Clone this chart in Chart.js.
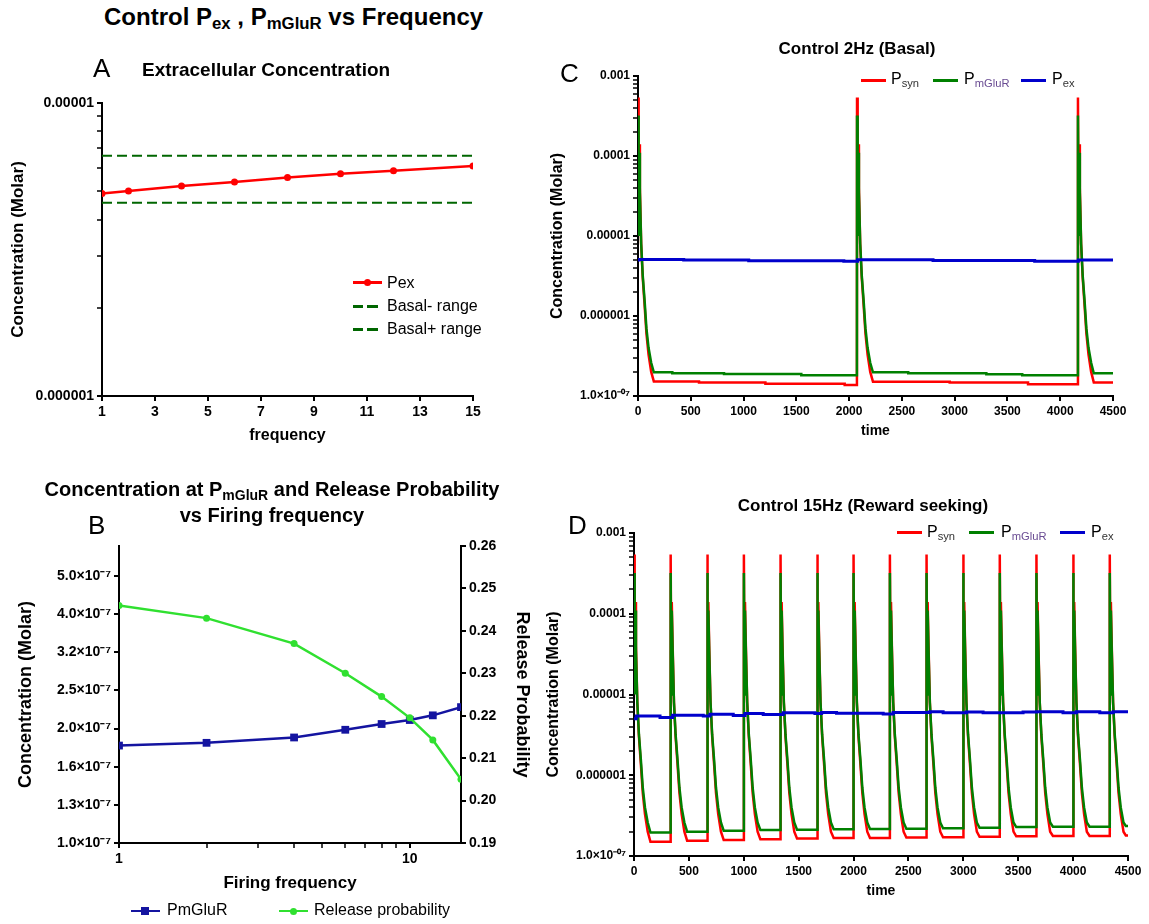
<!DOCTYPE html>
<html>
<head>
<meta charset="utf-8">
<title>Control Pex, PmGluR vs Frequency</title>
<script src="https://cdn.jsdelivr.net/npm/chart.js@4.4.1/dist/chart.umd.min.js"></script>
<style>
  body { margin: 0; background: #fff; }
  #page { position: relative; width: 1149px; height: 924px; overflow: hidden; font-family: 'Liberation Sans', Arial, sans-serif; color: #000; }
  #page canvas { position: absolute; }
  .txt { position: absolute; line-height: 1; white-space: nowrap; }
  .txt sub { font-size: 0.7em; vertical-align: -0.25em; line-height: 0; }
  .b { font-weight: bold; }
  .sw { position: absolute; }
</style>
</head>
<body>
<div id="page">
  <canvas id="chartA" width="530" height="410" style="left:0;top:50px"></canvas>
  <canvas id="chartB" width="560" height="400" style="left:0;top:520px"></canvas>
  <canvas id="chartC" width="614" height="410" style="left:535px;top:40px"></canvas>
  <canvas id="chartD" width="614" height="420" style="left:535px;top:495px"></canvas>

  <div class="txt b" style="left:104px;top:5px;font-size:24px">Control P<sub>ex</sub> , P<sub>mGluR</sub> vs Frequency</div>

  <div class="txt" style="left:93px;top:55px;font-size:26px">A</div>
  <div class="txt b" style="left:142px;top:60px;font-size:19px">Extracellular Concentration</div>

  <div class="txt" style="left:88px;top:512px;font-size:26px">B</div>
  <div class="txt b" style="left:22px;top:476px;width:500px;text-align:center;font-size:20px;line-height:26px">Concentration at P<sub>mGluR</sub> and Release Probability<br>vs Firing frequency</div>

  <div class="txt" style="left:560px;top:60px;font-size:26px">C</div>
  <div class="txt b" style="left:657px;top:40px;width:400px;text-align:center;font-size:17px">Control 2Hz (Basal)</div>

  <div class="txt" style="left:568px;top:512px;font-size:26px">D</div>
  <div class="txt b" style="left:663px;top:497px;width:400px;text-align:center;font-size:17px">Control 15Hz (Reward seeking)</div>

  <!-- legend A -->
  <div class="sw" style="left:353px;top:281px;width:29px;height:2.5px;background:#ff0000"></div>
  <div class="sw" style="left:364px;top:279px;width:7px;height:7px;border-radius:50%;background:#ff0000"></div>
  <div class="txt" style="left:387px;top:274.5px;font-size:16px">Pex</div>
  <div class="sw" style="left:353px;top:305px;width:10px;height:2.5px;background:#006600"></div>
  <div class="sw" style="left:367px;top:305px;width:11px;height:2.5px;background:#006600"></div>
  <div class="txt" style="left:387px;top:298px;font-size:16px">Basal- range</div>
  <div class="sw" style="left:353px;top:328px;width:10px;height:2.5px;background:#006600"></div>
  <div class="sw" style="left:367px;top:328px;width:11px;height:2.5px;background:#006600"></div>
  <div class="txt" style="left:387px;top:320.5px;font-size:16px">Basal+ range</div>

  <!-- legend B -->
  <div class="sw" style="left:131px;top:909.5px;width:29px;height:2.5px;background:#1414a0"></div>
  <div class="sw" style="left:141px;top:906.5px;width:8px;height:8px;background:#1414a0"></div>
  <div class="txt" style="left:167px;top:902px;font-size:16px">PmGluR</div>
  <div class="sw" style="left:279px;top:909.5px;width:29px;height:2.5px;background:#30e030"></div>
  <div class="sw" style="left:290px;top:907.5px;width:7px;height:7px;border-radius:50%;background:#30e030"></div>
  <div class="txt" style="left:314px;top:902px;font-size:16px">Release probability</div>

  <!-- legend C -->
  <div class="sw" style="left:861px;top:78.5px;width:25px;height:3px;background:#ff0000"></div>
  <div class="txt" style="left:891px;top:70.5px;font-size:16px">P<sub style="color:#333">syn</sub></div>
  <div class="sw" style="left:933px;top:78.5px;width:25px;height:3px;background:#008000"></div>
  <div class="txt" style="left:964px;top:70.5px;font-size:16px">P<sub style="color:#6a4c93">mGluR</sub></div>
  <div class="sw" style="left:1021px;top:78.5px;width:25px;height:3px;background:#0000cc"></div>
  <div class="txt" style="left:1052px;top:70.5px;font-size:16px">P<sub style="color:#333">ex</sub></div>

  <!-- legend D -->
  <div class="sw" style="left:897px;top:531px;width:25px;height:3px;background:#ff0000"></div>
  <div class="txt" style="left:927px;top:524px;font-size:16px">P<sub style="color:#333">syn</sub></div>
  <div class="sw" style="left:969px;top:531px;width:25px;height:3px;background:#008000"></div>
  <div class="txt" style="left:1001px;top:524px;font-size:16px">P<sub style="color:#6a4c93">mGluR</sub></div>
  <div class="sw" style="left:1060px;top:531px;width:25px;height:3px;background:#0000cc"></div>
  <div class="txt" style="left:1091px;top:524px;font-size:16px">P<sub style="color:#333">ex</sub></div>
</div>

<script>
// ---- A: extracellular concentration vs frequency
const freqA = [1, 2, 4, 6, 8, 10, 12, 15];
const pexA = [4.91e-6, 5.01e-6, 5.21e-6, 5.38e-6, 5.57e-6, 5.74e-6, 5.87e-6, 6.10e-6];
const basalRange = [1, 15];
const basalLow = 4.57e-6;
const basalHigh = 6.6e-6;
const aTickValues = [1e-6, 1e-5];
const aTickLabels = ['0.000001', '0.00001'];

// ---- B: PmGluR concentration and release probability vs firing frequency
const freqB = [1, 2, 4, 6, 8, 10, 12, 15];
const pmglurB = [1.80e-7, 1.83e-7, 1.89e-7, 1.98e-7, 2.05e-7, 2.10e-7, 2.16e-7, 2.27e-7];
const releaseB = [0.246, 0.243, 0.237, 0.230, 0.2245, 0.2195, 0.2143, 0.205];
const bTickValues = [1.0e-7, 1.259e-7, 1.585e-7, 1.995e-7, 2.512e-7, 3.162e-7, 3.981e-7, 5.012e-7];
const bTickLabels = ['1.0×10⁻⁷', '1.3×10⁻⁷', '1.6×10⁻⁷', '2.0×10⁻⁷', '2.5×10⁻⁷', '3.2×10⁻⁷', '4.0×10⁻⁷', '5.0×10⁻⁷'];
const bFreqTicks = [1, 2, 3, 4, 5, 6, 7, 8, 9, 10];
const bFreqLabels = { 1: '1', 10: '10' };

// ---- C / D: time courses (one release event shape, offsets in time units)
const spikeOffsets = [0, 6, 10, 18, 30, 45, 62, 80, 100, 125];
const spikeSyn = [5.4e-4, 1.1e-5, 1.4e-4, 4.0e-5, 8.0e-6, 3.0e-6, 1.4e-6, 6.0e-7, 3.3e-7, 2.0e-7];
const spikeMglur = [3.2e-4, 1.0e-5, 1.1e-4, 3.5e-5, 8.0e-6, 3.2e-6, 1.6e-6, 7.0e-7, 4.0e-7, 2.6e-7];
const cdTickValues = [1e-7, 1e-6, 1e-5, 1e-4, 1e-3];
const cdTickLabels = ['1.0×10⁻⁰⁷', '0.000001', '0.00001', '0.0001', '0.001'];

// C: 2 Hz; baseline levels are [from, to, value]
const cSpikes = [0, 2075, 4168];
const cSynLevels = [[150, 578, 1.52e-7], [578, 1207, 1.47e-7], [1207, 1958, 1.42e-7], [1958, 2074, 1.37e-7],
  [2226, 2953, 1.51e-7], [2953, 3695, 1.47e-7], [3695, 4167, 1.40e-7], [4318, 4500, 1.48e-7]];
const cMglurLevels = [[150, 325, 1.98e-7], [325, 815, 1.92e-7], [815, 1547, 1.88e-7], [1547, 2074, 1.82e-7],
  [2226, 2560, 1.98e-7], [2560, 3300, 1.92e-7], [3300, 3640, 1.87e-7], [3640, 4167, 1.82e-7], [4318, 4500, 1.92e-7]];
const cPex = [[0, 5.0e-6], [10, 5.1e-6], [433, 5.0e-6], [1049, 4.92e-6], [1950, 4.85e-6], [2080, 5.05e-6], [2795, 4.95e-6], [3758, 4.85e-6], [4172, 5.0e-6], [4500, 5.0e-6]];

// D: 15 Hz
const dSpikes = [0, 334, 667, 1001, 1335, 1669, 2000, 2331, 2665, 2998, 3332, 3666, 4000, 4334];
const dSynLevels = [[150, 333, 1.50e-7], [484, 666, 1.55e-7], [817, 1000, 1.58e-7], [1151, 1334, 1.61e-7], [1485, 1668, 1.65e-7],
  [1819, 1999, 1.67e-7], [2150, 2330, 1.67e-7], [2481, 2664, 1.69e-7], [2815, 2997, 1.71e-7], [3148, 3331, 1.73e-7],
  [3482, 3665, 1.75e-7], [3816, 3999, 1.77e-7], [4150, 4333, 1.77e-7], [4480, 4500, 1.80e-7]];
const dMglurLevels = [[150, 333, 1.95e-7], [484, 666, 2.00e-7], [817, 1000, 2.06e-7], [1151, 1334, 2.10e-7], [1485, 1668, 2.12e-7],
  [1819, 1999, 2.15e-7], [2150, 2330, 2.16e-7], [2481, 2664, 2.18e-7], [2815, 2997, 2.20e-7], [3148, 3331, 2.24e-7],
  [3482, 3665, 2.28e-7], [3816, 3999, 2.30e-7], [4150, 4333, 2.30e-7], [4480, 4500, 2.35e-7]];
const dPex = [[0, 5.0e-6], [20, 5.4e-6], [237, 5.2e-6], [352, 5.55e-6], [631, 5.4e-6], [692, 5.7e-6], [904, 5.5e-6], [1011, 5.8e-6], [1177, 5.65e-6], [1359, 5.95e-6], [1648, 5.8e-6], [1709, 6.0e-6], [1845, 5.85e-6], [2270, 5.75e-6], [2361, 6.0e-6], [2695, 6.1e-6], [2816, 5.95e-6], [3029, 6.05e-6], [3180, 5.95e-6], [3544, 6.05e-6], [3666, 6.1e-6], [3908, 5.95e-6], [4030, 6.1e-6], [4243, 5.95e-6], [4364, 6.1e-6], [4500, 6.1e-6]];

Chart.defaults.font.family = "'Liberation Sans', Arial, sans-serif";
Chart.defaults.color = '#000';

// release events plus the flat baseline levels between them
function buildTrace(spikes, shape, levels) {
  const pts = [];
  spikes.forEach(t0 => spikeOffsets.forEach((dt, i) => pts.push({ x: t0 + dt, y: shape[i] })));
  levels.forEach(([from, to, y]) => { pts.push({ x: from, y }); pts.push({ x: to, y }); });
  return pts.sort((a, b) => a.x - b.x);
}
const toPoints = pairs => pairs.map(([x, y]) => ({ x, y }));

// log tick marks at 1..9 of every decade
function logTicks(loExp, hiExp) {
  const out = [];
  for (let e = loExp; e < hiExp; e++) {
    for (let m = 1; m <= 9; m++) out.push({ value: m * Math.pow(10, e) });
  }
  out.push({ value: Math.pow(10, hiExp) });
  return out;
}
function lookupLabel(v, values, labels) {
  const i = values.findIndex(t => Math.abs(Math.log10(t) - Math.log10(v)) < 1e-6);
  return i < 0 ? '' : labels[i];
}
const isDecade = v => v > 0 && Math.abs(Math.log10(v) - Math.round(Math.log10(v))) < 1e-6;

const border = { display: true, color: '#000', width: 2 };
const grid = { drawOnChartArea: false, drawTicks: true, tickLength: 5, color: '#000', lineWidth: 2 };
const logGrid = Object.assign({}, grid, { tickWidth: c => (c.tick && isDecade(c.tick.value)) ? 2 : 1.5 });
const fixWidth = w => s => { s.width = w; };
const fixHeight = h => s => { s.height = h; };
const bold = size => ({ size, weight: 'bold' });
const base = {
  responsive: false,
  animation: false,
  plugins: { legend: { display: false }, tooltip: { enabled: false } },
  elements: { line: { tension: 0 } }
};

// A
new Chart(document.getElementById('chartA'), {
  type: 'line',
  data: {
    datasets: [
      { data: freqA.map((f, i) => ({ x: f, y: pexA[i] })), borderColor: '#ff0000', backgroundColor: '#ff0000', borderWidth: 2.5, pointRadius: 3.5, pointBorderWidth: 0 },
      { data: basalRange.map(f => ({ x: f, y: basalLow })), borderColor: '#006600', borderWidth: 2, borderDash: [10, 5], pointRadius: 0 },
      { data: basalRange.map(f => ({ x: f, y: basalHigh })), borderColor: '#006600', borderWidth: 2, borderDash: [10, 5], pointRadius: 0 }
    ]
  },
  options: Object.assign({}, base, {
    layout: { padding: { top: 53, right: 57, left: 0, bottom: 0 } },
    scales: {
      x: {
        type: 'linear', min: 1, max: 15, border, grid,
        ticks: { stepSize: 2, font: bold(14), maxRotation: 0, padding: 3 },
        title: { display: true, text: 'frequency', font: bold(16), padding: { top: 0, bottom: 15 } },
        afterFit: fixHeight(64)
      },
      y: {
        type: 'logarithmic', min: 1e-6, max: 1e-5, border, grid: logGrid,
        afterBuildTicks: s => { s.ticks = logTicks(-6, -5); },
        ticks: { autoSkip: false, font: bold(14), padding: 3, callback: v => lookupLabel(v, aTickValues, aTickLabels) },
        title: { display: true, text: 'Concentration (Molar)', font: bold(17), padding: { top: 8, bottom: 0 } },
        afterFit: fixWidth(102)
      }
    }
  })
});

// B
new Chart(document.getElementById('chartB'), {
  type: 'line',
  data: {
    datasets: [
      { data: freqB.map((f, i) => ({ x: f, y: releaseB[i] })), yAxisID: 'yR', borderColor: '#30e030', backgroundColor: '#30e030', borderWidth: 2.5, pointRadius: 3.5, pointBorderWidth: 0 },
      { data: freqB.map((f, i) => ({ x: f, y: pmglurB[i] })), yAxisID: 'y', borderColor: '#1414a0', backgroundColor: '#1414a0', borderWidth: 2.5, pointStyle: 'rect', pointRadius: 5.5, pointBorderWidth: 0 }
    ]
  },
  options: Object.assign({}, base, {
    layout: { padding: { top: 26, right: 0, left: 0, bottom: 0 } },
    scales: {
      x: {
        type: 'logarithmic', min: 1, max: 15, border, grid: logGrid,
        afterBuildTicks: s => { s.ticks = bFreqTicks.map(v => ({ value: v })); },
        ticks: { autoSkip: false, font: bold(14), maxRotation: 0, padding: 3, callback: v => bFreqLabels[v] || '' },
        title: { display: true, text: 'Firing frequency', font: bold(17), padding: { top: 0, bottom: 26 } },
        afterFit: fixHeight(77)
      },
      y: {
        type: 'logarithmic', position: 'left', min: 1e-7, max: 6e-7, border, grid,
        afterBuildTicks: s => { s.ticks = bTickValues.map(v => ({ value: v })); },
        ticks: { autoSkip: false, font: bold(14), padding: 3, callback: v => lookupLabel(v, bTickValues, bTickLabels) },
        title: { display: true, text: 'Concentration (Molar)', font: bold(18), padding: { top: 15, bottom: 0 } },
        afterFit: fixWidth(119)
      },
      yR: {
        type: 'linear', position: 'right', min: 0.19, max: 0.26, border, grid,
        ticks: { stepSize: 0.01, font: bold(14), padding: 3, callback: v => v.toFixed(2) },
        title: { display: true, text: 'Release Probability', font: bold(18), padding: { top: 27, bottom: 0 } },
        afterFit: fixWidth(99)
      }
    }
  })
});

// C and D share the same axes layout
function timeChart(id, pad, yWidth, xHeight, yTitlePad, xTitlePad, syn, mglur, pex) {
  return new Chart(document.getElementById(id), {
    type: 'line',
    data: {
      datasets: [
        { data: pex, borderColor: '#0000cc', borderWidth: 3, pointRadius: 0, stepped: true },
        { data: mglur, borderColor: '#008000', borderWidth: 2.5, pointRadius: 0 },
        { data: syn, borderColor: '#ff0000', borderWidth: 2.5, pointRadius: 0 }
      ]
    },
    options: Object.assign({}, base, {
      layout: { padding: pad },
      scales: {
        x: {
          type: 'linear', min: 0, max: 4500, border, grid,
          ticks: { stepSize: 500, font: bold(12), maxRotation: 0, padding: 3, callback: v => String(v) },
          title: { display: true, text: 'time', font: bold(14), padding: { top: 0, bottom: xTitlePad } },
          afterFit: fixHeight(xHeight)
        },
        y: {
          type: 'logarithmic', min: 1e-7, max: 1e-3, border, grid: logGrid,
          afterBuildTicks: s => { s.ticks = logTicks(-7, -3); },
          ticks: { autoSkip: false, font: bold(12), padding: 3, callback: v => lookupLabel(v, cdTickValues, cdTickLabels) },
          title: { display: true, text: 'Concentration (Molar)', font: bold(16), padding: { top: yTitlePad, bottom: 0 } },
          afterFit: fixWidth(yWidth)
        }
      }
    })
  });
}

timeChart('chartC', { top: 36, right: 36, left: 0, bottom: 0 }, 103, 54, 13, 10,
  buildTrace(cSpikes, spikeSyn, cSynLevels), buildTrace(cSpikes, spikeMglur, cMglurLevels), toPoints(cPex));

timeChart('chartD', { top: 38, right: 21, left: 0, bottom: 0 }, 99, 59, 9, 15,
  buildTrace(dSpikes, spikeSyn, dSynLevels), buildTrace(dSpikes, spikeMglur, dMglurLevels), toPoints(dPex));
</script>
</body>
</html>
